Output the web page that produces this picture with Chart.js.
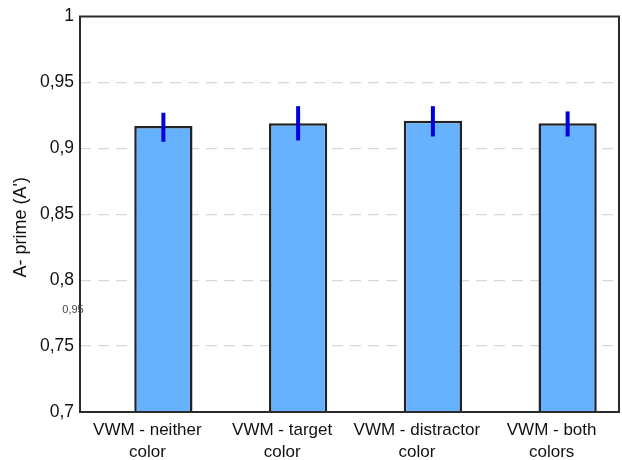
<!DOCTYPE html>
<html>
<head>
<meta charset="utf-8">
<script src="https://cdn.jsdelivr.net/npm/chart.js@4/dist/chart.umd.min.js"></script>
<style>
  html, body { margin: 0; padding: 0; background: #fff; }
  #wrap { width: 622px; height: 460px; }
</style>
</head>
<body>
<div id="wrap"><canvas id="aprimeChart"></canvas></div>
<script>
// Data
const conditions = [
  ['VWM - neither', 'color'],
  ['VWM - target', 'color'],
  ['VWM - distractor', 'color'],
  ['VWM - both', 'colors']
];
const aPrime = [0.917, 0.919, 0.921, 0.919];
const errLow = [0.905, 0.906, 0.909, 0.909];
const errHigh = [0.927, 0.932, 0.932, 0.928];
const yTicks = [0.7, 0.75, 0.8, 0.85, 0.9, 0.95, 1];
const yTitle = "A- prime (A')";
const strayLabel = '0,95';

const FONT = '"Liberation Sans", Arial, Helvetica, sans-serif';

const commaFmt = v => String(+(+v).toFixed(2)).replace('.', ',');

// Error bars, plot frame, axis title and the stray label
const extrasPlugin = {
  id: 'extras',
  afterDatasetsDraw(chart) {
    const ctx = chart.ctx;
    const y = chart.scales.y;
    const meta = chart.getDatasetMeta(1);
    ctx.save();
    ctx.strokeStyle = '#0000dd';
    ctx.lineWidth = 4;
    meta.data.forEach((bar, i) => {
      ctx.beginPath();
      ctx.moveTo(bar.x, y.getPixelForValue(errLow[i]));
      ctx.lineTo(bar.x, y.getPixelForValue(errHigh[i]));
      ctx.stroke();
    });
    const a = chart.chartArea;
    ctx.strokeStyle = '#2b2b2b';
    ctx.lineWidth = 2;
    ctx.strokeRect(a.left, a.top, a.right - a.left, a.bottom - a.top);

    // y title, a bit below the plot's middle as in the source
    ctx.save();
    ctx.translate(21, (a.top + a.bottom) / 2 + 13);
    ctx.rotate(-Math.PI / 2);
    ctx.fillStyle = '#111';
    ctx.font = '18px ' + FONT;
    ctx.textAlign = 'center';
    ctx.textBaseline = 'middle';
    ctx.fillText(yTitle, 0, 0);
    ctx.restore();

    ctx.fillStyle = '#444';
    ctx.font = '11px ' + FONT;
    ctx.textAlign = 'center';
    ctx.textBaseline = 'middle';
    ctx.fillText(strayLabel, a.left - 7, y.getPixelForValue(0.7775));
    ctx.restore();
  }
};

new Chart(document.getElementById('aprimeChart'), {
  type: 'bar',
  data: {
    labels: conditions,
    datasets: [
      { data: conditions.map(() => null) },
      {
        data: aPrime,
        backgroundColor: '#66b2ff',
        borderColor: '#222',
        borderWidth: 2.5,
        borderSkipped: false
      }
    ]
  },
  options: {
    responsive: true,
    maintainAspectRatio: false,
    animation: false,
    datasets: { bar: { categoryPercentage: 0.475, barPercentage: 1.82 } },
    layout: { padding: { top: 14, right: 3, left: 0, bottom: 0 } },
    plugins: { legend: { display: false }, tooltip: { enabled: false } },
    scales: {
      x: {
        grid: { display: false, drawTicks: false },
        border: { display: false },
        ticks: {
          color: '#111',
          padding: 8,
          maxRotation: 0,
          autoSkip: false,
          font: { family: FONT, size: 17, lineHeight: 1.25 }
        },
        afterFit: s => { s.height = 48; }
      },
      y: {
        min: 0.7,
        max: 1,
        afterBuildTicks: s => { s.ticks = yTicks.map(v => ({ value: v })); },
        grid: {
          drawTicks: false,
          color: ctx => (ctx.tick && (ctx.tick.value <= 0.7 || ctx.tick.value >= 1)) ? 'rgba(0,0,0,0)' : '#d8d8d8',
          lineWidth: 1.2
        },
        border: { display: false, dash: [11, 7] },
        ticks: {
          color: '#111',
          padding: 6,
          callback: v => commaFmt(v),
          font: { family: FONT, size: 17.5 }
        },
        afterFit: s => { s.width = 80; }
      }
    }
  },
  plugins: [extrasPlugin]
});
</script>
</body>
</html>
